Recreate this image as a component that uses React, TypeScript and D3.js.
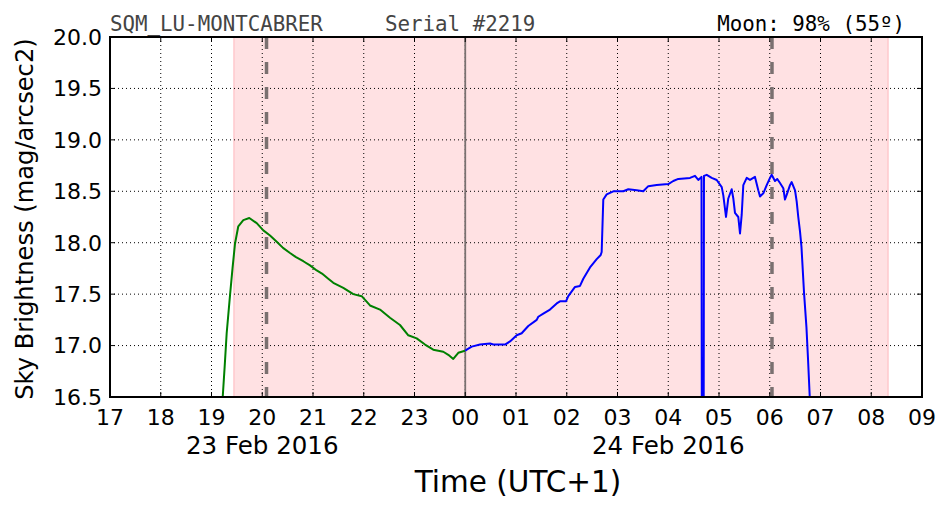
import React from "react";
import * as d3 from "d3";

// ---- data (hours since 00:00 of 23 Feb 2016, local UTC+1) ----
const greenTimes = [19.187, 19.221, 19.26, 19.299, 19.365, 19.414, 19.463, 19.528, 19.627, 19.745, 19.891, 20.021, 20.153, 20.285, 20.409, 20.547, 20.665, 20.809, 20.941, 21.073, 21.177, 21.301, 21.4, 21.597, 21.794, 21.96, 22.123, 22.32, 22.517, 22.714, 22.878, 23.043, 23.207, 23.37, 23.567, 23.666, 23.764, 23.863, 23.995];
const greenValues = [16.2, 16.5, 16.8, 17.12, 17.49, 17.75, 17.99, 18.16, 18.22, 18.24, 18.19, 18.12, 18.07, 18.01, 17.95, 17.9, 17.86, 17.82, 17.78, 17.73, 17.7, 17.65, 17.61, 17.56, 17.5, 17.48, 17.39, 17.35, 17.27, 17.2, 17.1, 17.07, 17.01, 16.96, 16.94, 16.91, 16.87, 16.93, 16.95];

const blueTimes = [24.0, 24.029, 24.127, 24.291, 24.488, 24.553, 24.783, 24.882, 25.014, 25.112, 25.242, 25.408, 25.439, 25.538, 25.67, 25.802, 25.867, 25.985, 26.03, 26.163, 26.261, 26.326, 26.458, 26.59, 26.669, 26.688, 26.72, 26.787, 26.917, 27.114, 27.213, 27.378, 27.508, 27.607, 27.772, 28.001, 28.099, 28.198, 28.429, 28.527, 28.592, 28.655, 28.665, 28.695, 28.704, 28.758, 28.856, 28.955, 29.054, 29.085, 29.138, 29.183, 29.25, 29.282, 29.315, 29.38, 29.414, 29.447, 29.479, 29.546, 29.611, 29.709, 29.774, 29.808, 29.873, 29.94, 30.005, 30.038, 30.103, 30.148, 30.202, 30.267, 30.3, 30.33, 30.399, 30.432, 30.498, 30.531, 30.562, 30.596, 30.625, 30.676, 30.723, 30.755, 30.788, 30.808];
const blueValues = [16.95, 16.96, 16.99, 17.01, 17.02, 17.01, 17.01, 17.04, 17.1, 17.12, 17.19, 17.25, 17.28, 17.31, 17.35, 17.41, 17.43, 17.43, 17.48, 17.57, 17.58, 17.65, 17.76, 17.84, 17.88, 17.91, 18.42, 18.47, 18.5, 18.5, 18.52, 18.51, 18.5, 18.55, 18.56, 18.57, 18.6, 18.62, 18.63, 18.65, 18.61, 18.64, 15.0, 15.0, 18.65, 18.66, 18.63, 18.61, 18.54, 18.46, 18.25, 18.43, 18.52, 18.43, 18.29, 18.25, 18.09, 18.27, 18.56, 18.63, 18.61, 18.64, 18.51, 18.45, 18.48, 18.56, 18.63, 18.66, 18.6, 18.62, 18.58, 18.53, 18.42, 18.46, 18.56, 18.59, 18.51, 18.4, 18.25, 18.11, 17.96, 17.51, 17.18, 16.86, 16.5, 16.3];

const xTicks = [17, 18, 19, 20, 21, 22, 23, 24, 25, 26, 27, 28, 29, 30, 31, 32, 33];
const xTickLabels = ["17", "18", "19", "20", "21", "22", "23", "00", "01", "02", "03", "04", "05", "06", "07", "08", "09"];
const yTicks = [16.5, 17.0, 17.5, 18.0, 18.5, 19.0, 19.5, 20.0];
const dateLabels = ["23 Feb 2016", "24 Feb 2016"];
const dateTicks = [20, 28];
const nightSpan = [19.443, 32.33];
const moonLines = [20.084, 30.044];
const midnight = [24];

const W = 952, H = 512;
const L = 110, R = 922, T = 37, B = 397;

export default function App() {
  const x = d3.scaleLinear().domain([17, 33]).range([L, R]);
  const y = d3.scaleLinear().domain([16.5, 20]).range([B, T]);
  const line = d3.line<[number, number]>().x(d => x(d[0])).y(d => y(d[1]));
  const green = line(greenTimes.map((t, i) => [t, greenValues[i]] as [number, number])) || "";
  const blue = line(blueTimes.map((t, i) => [t, blueValues[i]] as [number, number])) || "";
  const sans = "'DejaVu Sans', sans-serif";
  const mono = "'DejaVu Sans Mono', monospace";
  return (
    <svg width={W} height={H} style={{ position: "absolute", left: 0, top: 0, background: "#fff" }}>
      <defs>
        <clipPath id="plot"><rect x={L} y={T} width={R - L} height={B - T} /></clipPath>
      </defs>
      <rect x={0} y={0} width={W} height={H} fill="#fff" />
      <g clipPath="url(#plot)">
        <rect x={x(nightSpan[0])} y={T} width={x(nightSpan[1]) - x(nightSpan[0])} height={B - T}
          fill="#ffe1e3" stroke="#ffc9cd" strokeWidth={1.5} />
        {xTicks.map(t => (
          <line key={"gx" + t} x1={x(t)} x2={x(t)} y1={T} y2={B} stroke="#000" strokeWidth={1} strokeDasharray="1,3" />
        ))}
        {yTicks.map(t => (
          <line key={"gy" + t} x1={L} x2={R} y1={y(t)} y2={y(t)} stroke="#000" strokeWidth={1} strokeDasharray="1,3" />
        ))}
        {moonLines.map(t => (
          <line key={"m" + t} x1={x(t)} x2={x(t)} y1={T} y2={B} stroke="#7a7070" strokeWidth={3.5} strokeDasharray="12,13" />
        ))}
        {midnight.map(t => (
          <line key={"mn" + t} x1={x(t)} x2={x(t)} y1={T} y2={B} stroke="#7a7070" strokeWidth={1.8} />
        ))}
        <path d={green} fill="none" stroke="#008000" strokeWidth={2} strokeLinejoin="round" />
        <path d={blue} fill="none" stroke="#0000ff" strokeWidth={2} strokeLinejoin="round" />
      </g>
      {/* ticks inward */}
      {xTicks.map(t => (
        <g key={"tx" + t}>
          <line x1={x(t)} x2={x(t)} y1={B} y2={B - 5} stroke="#000" strokeWidth={1} />
          <line x1={x(t)} x2={x(t)} y1={T} y2={T + 5} stroke="#000" strokeWidth={1} />
        </g>
      ))}
      {yTicks.map(t => (
        <g key={"ty" + t}>
          <line x1={L} x2={L + 5} y1={y(t)} y2={y(t)} stroke="#000" strokeWidth={1} />
          <line x1={R} x2={R - 5} y1={y(t)} y2={y(t)} stroke="#000" strokeWidth={1} />
        </g>
      ))}
      <rect x={L} y={T} width={R - L} height={B - T} fill="none" stroke="#000" strokeWidth={2} />
      {/* tick labels */}
      {xTicks.map((t, i) => (
        <text key={"lx" + t} x={x(t)} y={425} textAnchor="middle" fontFamily={sans} fontSize={22} fill="#000">{xTickLabels[i]}</text>
      ))}
      {yTicks.map(t => (
        <text key={"ly" + t} x={102} y={y(t)} dy="0.36em" textAnchor="end" fontFamily={sans} fontSize={22} fill="#000">{t.toFixed(1)}</text>
      ))}
      {dateTicks.map((t, i) => (
        <text key={"d" + t} x={x(t)} y={454} textAnchor="middle" fontFamily={sans} fontSize={24.5} fill="#000">{dateLabels[i]}</text>
      ))}
      <text x={(L + R) / 2 + 2} y={492} textAnchor="middle" fontFamily={sans} fontSize={29.5} fill="#000">Time (UTC+1)</text>
      <text transform={`translate(33, ${(T + B) / 2 + 2}) rotate(-90)`} textAnchor="middle" fontFamily={sans} fontSize={24.2} fill="#000">Sky Brightness (mag/arcsec2)</text>
      {/* titles */}
      <text x={110} y={31} fontFamily={mono} fontSize={20.8} fill="#444">SQM_LU-MONTCABRER</text>
      <text x={385} y={31} fontFamily={mono} fontSize={20.8} fill="#444">Serial #2219</text>
      <text x={905} y={31} textAnchor="end" fontFamily={mono} fontSize={20.8} fill="#000">Moon: 98% (55º)</text>
    </svg>
  );
}
